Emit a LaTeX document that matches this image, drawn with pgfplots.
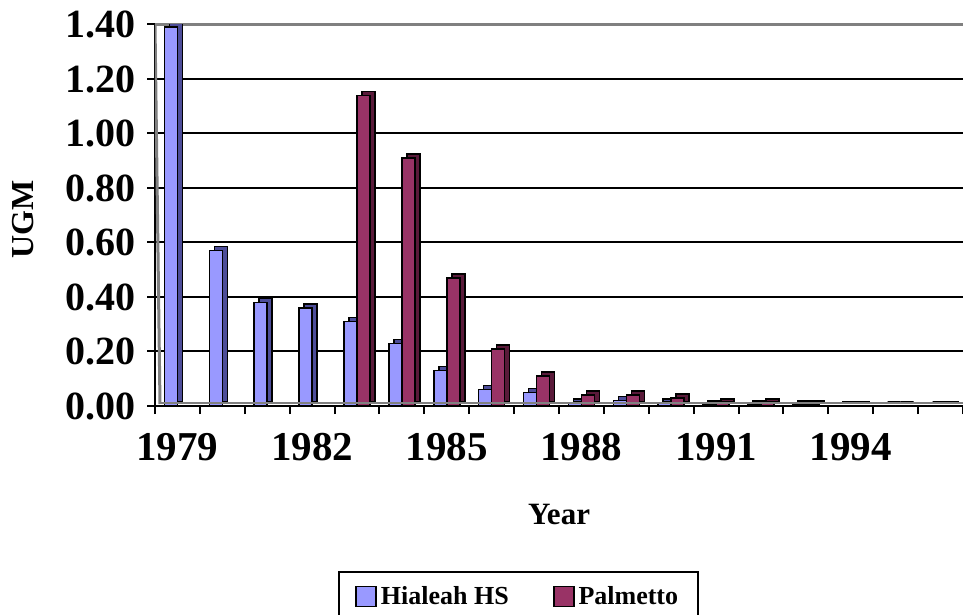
\documentclass[border=0pt]{standalone}
\usepackage{fontspec}
\setmainfont{Liberation Serif}
\usepackage{pgfplots}
\usepackage{pgfplotstable}
\pgfplotsset{compat=1.18}
\definecolor{hia}{HTML}{9999FF}
\definecolor{hiaD}{HTML}{4D4D99}
\definecolor{pal}{HTML}{993366}
\definecolor{palD}{HTML}{5A1A3A}
\definecolor{wall}{HTML}{808080}

\pgfplotstableread{
year hia pal
1979 1.39 nan
1980 0.57 nan
1981 0.38 nan
1982 0.36 nan
1983 0.31 1.14
1984 0.23 0.91
1985 0.13 0.47
1986 0.06 0.21
1987 0.05 0.11
1988 0.01 0.04
1989 0.02 0.04
1990 0.01 0.03
1991 0.003 0.01
1992 0.005 0.01
1993 0.003 0.006
1994 0.001 0.001
1995 0 0
1996 0 0.001
}\datatable

\begin{document}
\begin{tikzpicture}
\path[use as bounding box] (-77.5pt,-104.5pt) rectangle (404pt,203pt);
\begin{axis}[
  at={(0,0)}, anchor=south west,
  scale only axis, width=404pt, height=190.75pt,
  xmin=1978.5, xmax=1996.5, ymin=0, ymax=1.4,
  ybar, bar width=6.5pt,
  axis lines*=left, axis line style={-, line width=1pt, black},
  /pgf/number format/fixed, /pgf/number format/fixed zerofill,
  /pgf/number format/precision=2, /pgf/number format/assume math mode=true,
  ytick={0,0.2,0.4,0.6,0.8,1.0,1.2},
  extra y ticks={1.4},
  extra y tick style={major grid style={wall, line width=1.5pt}},
  ymajorgrids, major grid style={black, line width=1pt},
  tick align=outside, major tick length=4pt,
  tick style={black, line width=1pt},
  xtick={1978.5,1979.5,1980.5,1981.5,1982.5,1983.5,1984.5,1985.5,1986.5,1987.5,1988.5,1989.5,1990.5,1991.5,1992.5,1993.5,1994.5,1995.5,1996.5},
  xticklabels={,,,,,,,,,,,,,,,,,,,},
  extra x ticks={1979,1982,1985,1988,1991,1994},
  extra x tick labels={1979,1982,1985,1988,1991,1994},
  extra x tick style={major tick length=0pt},
  yticklabel style={font=\fontsize{20}{24}\selectfont\bfseries, xshift=-2pt},
  xticklabel style={font=\fontsize{20.5}{24}\selectfont\bfseries, yshift=-10pt},
  xlabel={Year},
  xlabel style={font=\fontsize{15.5}{18}\selectfont\bfseries, at={(axis description cs:0.5,-0.2857)}, anchor=center},
  ylabel={UGM},
  ylabel style={font=\fontsize{16}{18}\selectfont\bfseries, at={(axis description cs:-0.1634,0.49)}, anchor=center},
  legend style={at={(axis description cs:0.45,-0.4325)}, anchor=north,
    legend columns=2, draw=black, line width=1pt,
    font=\fontsize{13}{15}\selectfont\bfseries, inner xsep=8pt, inner ysep=5pt,
    /tikz/every even column/.append style={column sep=20pt}},
  legend image code/.code={\draw[#1, draw=black, line width=0.9pt] (0pt,-5pt) rectangle (10pt,5pt);},
]
\addplot[forget plot, fill=hiaD, draw=black, line width=0.8pt, bar shift=-0.75pt, yshift=2pt] table[x=year,y=hia]{\datatable};
\addplot[fill=hia, draw=black, line width=0.8pt, bar shift=-3.25pt] table[x=year,y=hia]{\datatable};
\addplot[forget plot, fill=palD, draw=black, line width=0.8pt, bar shift=5.75pt, yshift=2pt] table[x=year,y=pal]{\datatable};
\addplot[fill=pal, draw=black, line width=0.8pt, bar shift=3.25pt] table[x=year,y=pal]{\datatable};
\legend{Hialeah HS, Palmetto}
\draw[wall, line width=1.5pt] (rel axis cs:0,0) ++(2.5pt,1pt) -- (rel axis cs:0,1);
\draw[wall, line width=1pt] (rel axis cs:0,0) ++(2.5pt,1.5pt) -- ([yshift=1.5pt]rel axis cs:1,0);
\end{axis}
\end{tikzpicture}
\end{document}
